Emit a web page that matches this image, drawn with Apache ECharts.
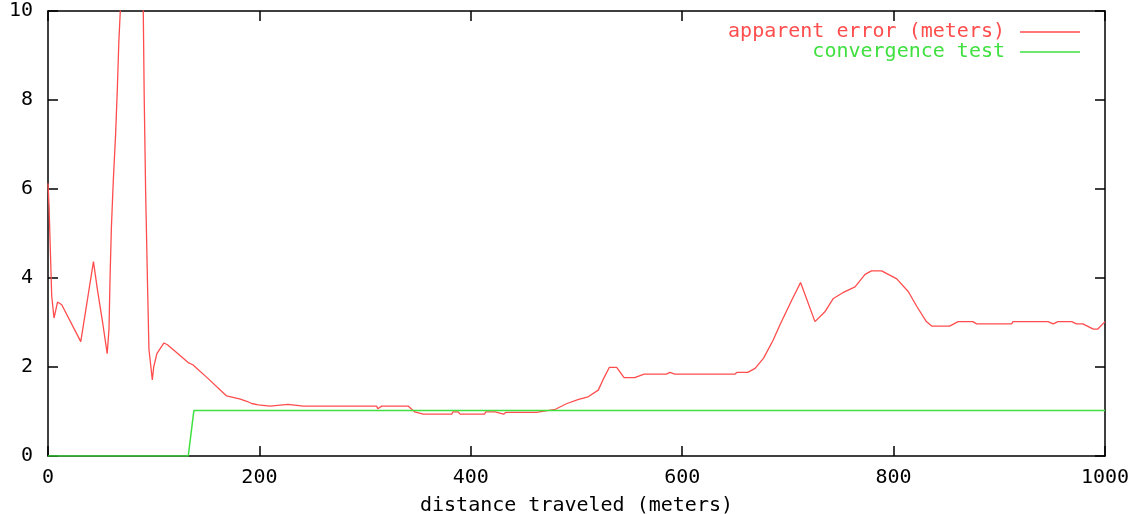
<!DOCTYPE html>
<html lang="en">
<head>
    <meta charset="UTF-8">
    <title>apparent error</title>
    <script src="https://cdn.jsdelivr.net/npm/echarts@6/dist/echarts.min.js"></script>
    <style type="text/css">
        html, body {
            margin: 0;
            padding: 0;
            background: #fff;
        }
        #chart {
            width: 1133px;
            height: 514px;
        }
    </style>
</head>
<body>
<div id="chart"></div>
<script type="text/javascript">
    // red curve
    var errX = [0, 1, 3.5, 5.7, 9, 13, 31, 43, 47, 52, 56, 57.7, 58.7, 60, 61.8, 64, 65.6, 67, 69, 80,
        90, 91, 92.4, 94.3, 95.5, 98.7, 100, 103, 109.7, 113, 123, 132.6, 137, 151, 169, 182, 188, 192.7, 199,
        210, 227, 241.5, 311, 312, 315.7, 341, 347, 355, 382, 383, 388, 390, 413, 414, 423, 431, 433, 462,
        480, 491, 502, 511, 520.6, 525, 531, 538, 545, 555, 564, 585, 588.5, 593, 650, 652, 662, 669, 677,
        686, 692.5, 703.6, 712, 725.6, 735, 743, 752, 763.5, 773, 779, 788.7, 803, 814, 822, 831, 836, 853,
        861, 875, 878.5, 911.7, 913, 946, 951, 955.5, 968.5, 973, 979, 989, 993, 1000];
    var errY = [6.13, 5.6, 3.6, 3.1, 3.46, 3.4, 2.57, 4.37, 3.7, 2.95, 2.3, 2.85, 4.0, 5.15, 6.2, 7.25, 8.25, 9.3, 10.3, 16,
        10.3, 8.1, 5.9, 3.7, 2.4, 1.71, 2.0, 2.3, 2.54, 2.5, 2.3, 2.1, 2.05, 1.75, 1.35, 1.28, 1.23, 1.18, 1.15,
        1.12, 1.16, 1.12, 1.12, 1.06, 1.12, 1.12, 0.99, 0.94, 0.94, 0.99, 0.99, 0.94, 0.94, 0.99, 0.99, 0.94, 0.98, 0.98,
        1.05, 1.18, 1.27, 1.33, 1.48, 1.71, 1.99, 1.99, 1.76, 1.76, 1.84, 1.84, 1.88, 1.84, 1.84, 1.88, 1.88, 1.97, 2.2,
        2.6, 2.95, 3.5, 3.9, 3.02, 3.24, 3.54, 3.67, 3.8, 4.08, 4.16, 4.16, 3.98, 3.69, 3.36, 3.02, 2.92, 2.92,
        3.02, 3.02, 2.97, 2.97, 3.02, 3.02, 2.97, 3.02, 3.02, 2.97, 2.97, 2.85, 2.85, 3.02];

    // green step
    var convX = [0, 132.7, 138, 1000];
    var convY = [0, 0, 1.02, 1.02];

    var xTicks = [0, 200, 400, 600, 800, 1000];
    var yTicks = [0, 2, 4, 6, 8, 10];

    function pairs(xs, ys) {
        var out = [];
        for (var i = 0; i < xs.length; i++) {
            out.push([xs[i], ys[i]]);
        }
        return out;
    }

    var font = 'DejaVu Sans Mono';
    var red = '#ff4d4d', green = '#3fe03f';
    var axisLine = {show: true, onZero: false, lineStyle: {color: '#000', width: 1.5}};
    var tick = {show: true, inside: true, length: 10, lineStyle: {color: '#000', width: 1.5}};

    var chart = echarts.init(document.getElementById('chart'));
    chart.setOption({
        animation: false,
        grid: {left: 48, right: 28, top: 11, bottom: 58, containLabel: false, outerBoundsMode: 'none'},
        legend: [{
            data: ['apparent error (meters)'],
            right: 53, top: 22, align: 'right', padding: 0,
            icon: 'rect', itemWidth: 60, itemHeight: 1.5,
            textStyle: {fontFamily: font, fontSize: 20, color: red, padding: [0, 10, 0, 0]}
        }, {
            data: ['convergence test'],
            right: 53, top: 42, align: 'right', padding: 0,
            icon: 'rect', itemWidth: 60, itemHeight: 1.5,
            textStyle: {fontFamily: font, fontSize: 20, color: green, padding: [0, 10, 0, 0]}
        }],
        xAxis: [{
            type: 'value', min: xTicks[0], max: xTicks[xTicks.length - 1], interval: 200,
            position: 'bottom',
            name: 'distance traveled (meters)', nameLocation: 'middle', nameGap: 40,
            nameTextStyle: {fontFamily: font, fontSize: 20, color: '#000'},
            axisLine: axisLine, axisTick: tick, splitLine: {show: false},
            axisLabel: {fontFamily: font, fontSize: 20, color: '#000', margin: 12,
                formatter: function (v) { return String(v); }}
        }, {
            type: 'value', min: xTicks[0], max: xTicks[xTicks.length - 1], interval: 200,
            position: 'top',
            axisLine: axisLine, axisTick: tick, splitLine: {show: false},
            axisLabel: {show: false}
        }],
        yAxis: [{
            type: 'value', min: yTicks[0], max: yTicks[yTicks.length - 1], interval: 2,
            position: 'left',
            axisLine: axisLine, axisTick: tick, splitLine: {show: false},
            axisLabel: {fontFamily: font, fontSize: 20, color: '#000', margin: 15}
        }, {
            type: 'value', min: yTicks[0], max: yTicks[yTicks.length - 1], interval: 2,
            position: 'right',
            axisLine: axisLine, axisTick: tick, splitLine: {show: false},
            axisLabel: {show: false}
        }],
        series: [{
            name: 'apparent error (meters)',
            type: 'line',
            data: pairs(errX, errY),
            symbol: 'none',
            clip: true,
            lineStyle: {color: red, width: 1.3},
            itemStyle: {color: red}
        }, {
            name: 'convergence test',
            type: 'line',
            data: pairs(convX, convY),
            symbol: 'none',
            clip: true,
            lineStyle: {color: green, width: 1.5},
            itemStyle: {color: green}
        }]
    });
</script>
</body>
</html>
